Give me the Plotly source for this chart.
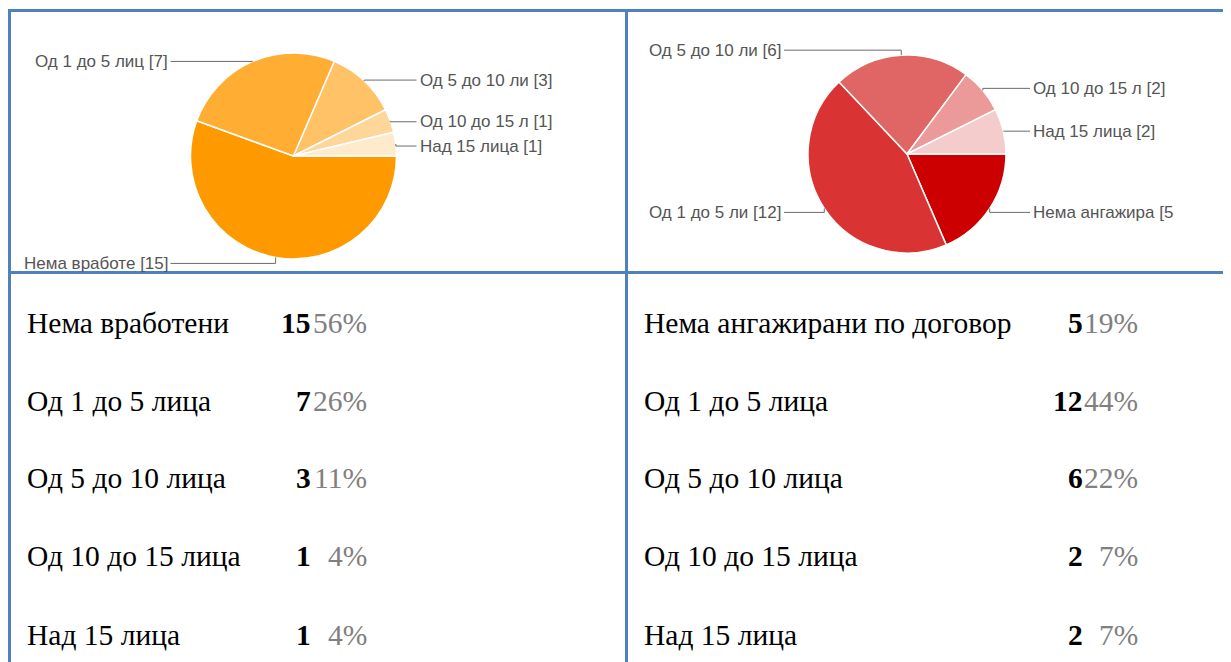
import math
import plotly.graph_objects as go

# ---------------- data ----------------
pie1_labels = ["Нема вработе [15]", "Од 1 до 5 лиц [7]", "Од 5 до 10 ли [3]",
               "Од 10 до 15 л [1]", "Над 15 лица [1]"]
pie1_values = [15, 7, 3, 1, 1]
pie1_colors = ["#FF9900", "#FFAD33", "#FFC266", "#FFD699", "#FFEBCC"]

pie2_labels = ["Нема ангажира [5", "Од 1 до 5 ли [12]", "Од 5 до 10 ли [6]",
               "Од 10 до 15 л [2]", "Над 15 лица [2]"]
pie2_values = [5, 12, 6, 2, 2]
pie2_colors = ["#CC0000", "#D93333", "#E06666", "#EB9999", "#F5CCCC"]

table1_names = ["Нема вработени", "Од 1 до 5 лица", "Од 5 до 10 лица",
                "Од 10 до 15 лица", "Над 15 лица"]
table1_counts = [15, 7, 3, 1, 1]
table1_pcts = ["56%", "26%", "11%", "4%", "4%"]

table2_names = ["Нема ангажирани по договор", "Од 1 до 5 лица", "Од 5 до 10 лица",
                "Од 10 до 15 лица", "Над 15 лица"]
table2_counts = [5, 12, 6, 2, 2]
table2_pcts = ["19%", "44%", "22%", "7%", "7%"]

# ---------------- layout helpers ----------------
W, H = 1231, 662
OFF = 8  # page body margin
BLUE = "#4F81BD"


def px(x):
    return (x - OFF) / W


def py(y):
    return 1 - (y - OFF) / H


fig = go.Figure()
shapes = []
annotations = []

pie_specs = [
    dict(labels=pie1_labels, values=pie1_values, colors=pie1_colors,
         cx=293.5, cy=156, r=103, nudge=[6, 0, -1, 1, 2]),
    dict(labels=pie2_labels, values=pie2_values, colors=pie2_colors,
         cx=907, cy=154, r=99, nudge=[4, 4, -5, -2, 0]),
]

for spec in pie_specs:
    cx, cy, r = spec["cx"], spec["cy"], spec["r"]
    fig.add_trace(go.Pie(
        labels=spec["labels"], values=spec["values"],
        marker=dict(colors=spec["colors"], line=dict(color="white", width=1.5)),
        sort=False, direction="clockwise", rotation=90,
        textinfo="none", hoverinfo="label+percent", showlegend=False,
        domain=dict(x=[px(cx - r), px(cx + r)], y=[py(cy + r), py(cy - r)]),
    ))
    total = sum(spec["values"])
    cum = 0
    for lab, v, dy in zip(spec["labels"], spec["values"], spec["nudge"]):
        theta = math.radians(90 + 360 * (cum + v / 2) / total)
        cum += v
        ex = cx + r * math.sin(theta)
        ey = cy - r * math.cos(theta)
        ly = ey + dy
        right = math.sin(theta) > 0
        lx = cx + 123 if right else cx - 123
        tx = cx + 125 if right else cx - 125
        shapes.append(dict(
            type="path", xref="paper", yref="paper",
            path=f"M {px(lx)},{py(ly)} L {px(ex)},{py(ly)} L {px(ex)},{py(ey)}",
            line=dict(color="#6b6b6b", width=1),
        ))
        annotations.append(dict(
            x=px(tx), y=py(ly), xref="paper", yref="paper",
            text=lab, showarrow=False, borderpad=0,
            xanchor="left" if right else "right", yanchor="middle",
            font=dict(family="Liberation Sans, Arial", size=17, color="#555555"),
        ))

# ---------------- table text ----------------
row_y = [323, 401, 478, 556, 635]
serif = "Liberation Serif, Times New Roman"
FS = 29.5
for names, counts, pcts, xn, xc, xp in [
    (table1_names, table1_counts, table1_pcts, 26, 312, 368),
    (table2_names, table2_counts, table2_pcts, 643, 1084, 1139),
]:
    for yy, n, c, p in zip(row_y, names, counts, pcts):
        annotations.append(dict(x=px(xn), y=py(yy), xref="paper", yref="paper",
                                text=n, showarrow=False, xanchor="left", yanchor="middle",
                                borderpad=0,
                                font=dict(family=serif, size=FS, color="black")))
        annotations.append(dict(x=px(xc), y=py(yy), xref="paper", yref="paper",
                                text=f"<b>{c}</b>", showarrow=False, xanchor="right",
                                yanchor="middle", borderpad=0,
                                font=dict(family=serif, size=FS, color="black")))
        annotations.append(dict(x=px(xp), y=py(yy), xref="paper", yref="paper",
                                text=p, showarrow=False, xanchor="right", yanchor="middle",
                                borderpad=0,
                                font=dict(family=serif, size=FS, color="#808080")))

# ---------------- table borders ----------------
border = dict(color=BLUE, width=3)
shapes += [
    dict(type="line", xref="paper", yref="paper", x0=px(8), x1=px(W + OFF), y0=py(10.5), y1=py(10.5), line=border),
    dict(type="line", xref="paper", yref="paper", x0=px(8), x1=px(W + OFF), y0=py(272.5), y1=py(272.5), line=border),
    dict(type="line", xref="paper", yref="paper", x0=px(9.5), x1=px(9.5), y0=py(9), y1=py(H + OFF), line=border),
    dict(type="line", xref="paper", yref="paper", x0=px(626.5), x1=px(626.5), y0=py(9), y1=py(H + OFF), line=border),
]

fig.update_layout(
    width=W, height=H,
    margin=dict(l=0, r=0, t=0, b=0),
    paper_bgcolor="white", plot_bgcolor="white",
    shapes=shapes, annotations=annotations,
)

fig.write_html("out.html")
